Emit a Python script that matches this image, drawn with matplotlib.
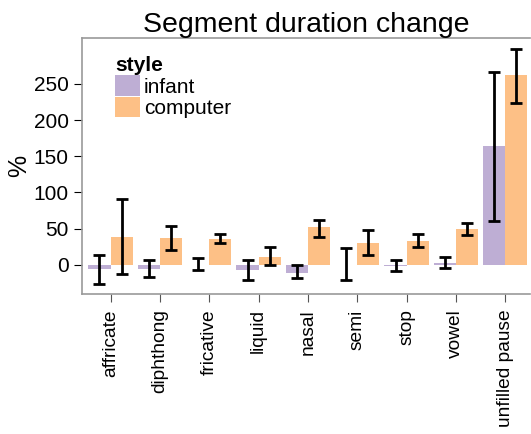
import numpy as np
import matplotlib
matplotlib.use("Agg")
import matplotlib.pyplot as plt
from matplotlib.patches import Patch

plt.rcParams['font.family'] = ['Liberation Sans', 'DejaVu Sans']

segments = ["affricate", "diphthong", "fricative", "liquid", "nasal",
            "semi", "stop", "vowel", "unfilled pause"]
infant = [-6, -6, -1, -7, -11, -1, -2, 2, 164]
infant_lo = [-26, -17, -7, -21, -19, -21, -9, -5, 61]
infant_hi = [14, 6, 9, 7, -1, 23, 6, 10, 266]
computer = [38, 37, 36, 11, 52, 30, 33, 50, 262]
computer_lo = [-13, 21, 30, -1, 38, 13, 25, 41, 224]
computer_hi = [91, 53, 42, 24, 62, 48, 42, 58, 299]

c_inf = "#beaed4"
c_comp = "#fdc086"

fig = plt.figure(figsize=(5.31, 4.34), dpi=100)
ax = fig.add_axes([0.1544, 0.3226, 0.8436, 0.5905])

x = np.arange(len(segments))
w = 0.45
for vals, lo, hi, off, col in [(infant, infant_lo, infant_hi, -w / 2, c_inf),
                               (computer, computer_lo, computer_hi, w / 2, c_comp)]:
    vals = np.array(vals, float)
    err = [vals - np.array(lo), np.array(hi) - vals]
    ax.bar(x + off, vals, width=w, color=col, linewidth=0)
    ax.errorbar(x + off, vals, yerr=err, fmt="none", ecolor="black",
                elinewidth=2, capsize=4, capthick=2)

ax.set_xlim(-0.58, 8.5)
ax.set_ylim(-40.5, 314)
ax.set_xticks(x)
ax.set_xticklabels(segments, rotation=90, fontsize=13.8)
ax.set_yticks([0, 50, 100, 150, 200, 250])
ax.tick_params(axis="y", labelsize=15, length=6, color="black")
ax.tick_params(axis="x", length=6, color="#555555", pad=5)
for s in ["left", "bottom", "top"]:
    ax.spines[s].set_color("#999999")
    ax.spines[s].set_linewidth(1.2)
ax.spines["right"].set_visible(False)

ax.set_ylabel("%", fontsize=18, labelpad=2)
ax.set_title("Segment duration change", fontsize=20.5, pad=3)

handles = [Patch(facecolor=c_inf, edgecolor="none", label="infant"),
           Patch(facecolor=c_comp, edgecolor="none", label="computer")]
leg = ax.legend(handles=handles, title="style", loc="upper left",
                bbox_to_anchor=(0.055, 0.96), frameon=False, fontsize=15,
                handlelength=1.2, handleheight=1.15, labelspacing=0.0,
                handletextpad=0.2, borderaxespad=0.0,
                title_fontproperties={"weight": "bold", "size": 15})
leg._legend_box.align = "left"

fig.savefig("out.png", dpi=100)
